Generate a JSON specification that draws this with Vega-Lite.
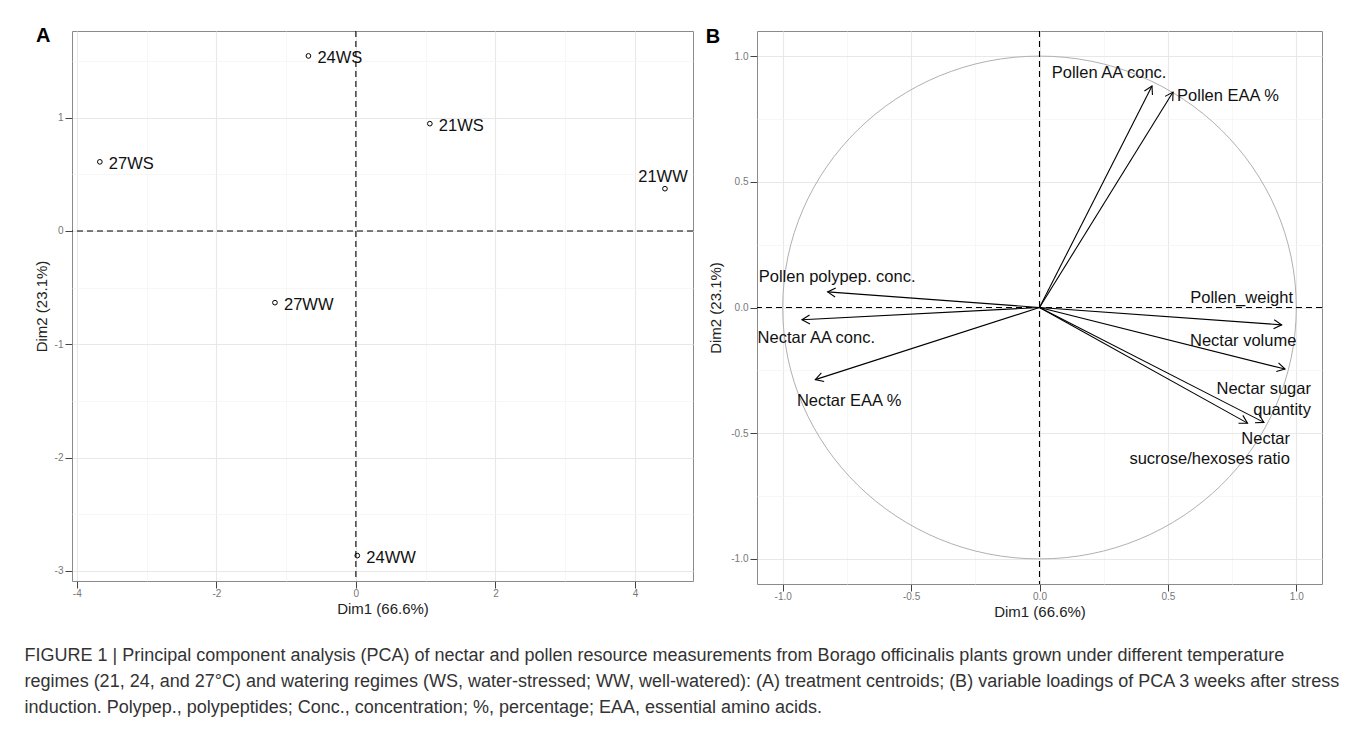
{
  "$schema": "https://vega.github.io/schema/vega-lite/v6.json",
  "background": "white",
  "padding": {"left": 24, "top": 25, "right": 5, "bottom": 0},
  "config": {
    "font": "Liberation Sans",
    "view": {"stroke": "#8a8a8a", "strokeWidth": 1},
    "axis": {
      "domain": false,
      "tickColor": "#444444",
      "tickSize": 7,
      "labelFontSize": 10,
      "labelColor": "#777777",
      "labelPadding": 2,
      "titleFontSize": 15,
      "titleFontWeight": "normal",
      "titleColor": "#222222",
      "gridColor": "#ebebeb"
    }
  },
  "title": {
    "text": [
      "FIGURE 1 | Principal component analysis (PCA) of nectar and pollen resource measurements from Borago officinalis plants grown under different temperature",
      "regimes (21, 24, and 27°C) and watering regimes (WS, water-stressed; WW, well-watered): (A) treatment centroids; (B) variable loadings of PCA 3 weeks after stress",
      "induction. Polypep., polypeptides; Conc., concentration; %, percentage; EAA, essential amino acids."
    ],
    "orient": "bottom",
    "anchor": "start",
    "frame": "bounds",
    "fontSize": 18,
    "fontWeight": "normal",
    "color": "#333333",
    "lineHeight": 26,
    "offset": 27,
    "dx": -9
  },
  "spacing": 10,
  "hconcat": [
    {
      "width": 621,
      "height": 550,
      "title": {"text": "A", "anchor": "start", "frame": "bounds", "orient": "top", "fontSize": 20, "fontWeight": "bold", "color": "black", "offset": -14, "dy": 18, "dx": 2, "baseline": "alphabetic"},
      "data": {
        "values": [
          {"name": "24WS", "Dim1": -0.68, "Dim2": 1.545},
          {"name": "21WS", "Dim1": 1.06, "Dim2": 0.947},
          {"name": "27WS", "Dim1": -3.67, "Dim2": 0.61},
          {"name": "21WW", "Dim1": 4.43, "Dim2": 0.373},
          {"name": "27WW", "Dim1": -1.16, "Dim2": -0.633},
          {"name": "24WW", "Dim1": 0.02, "Dim2": -2.866}
        ]
      },
      "layer": [
        {
          "data": {"values": [{"ref": 0}]},
          "mark": {"type": "rule", "color": "black", "strokeDash": [6, 4], "strokeWidth": 1.1},
          "encoding": {
            "x": {
              "field": "ref", "type": "quantitative",
              "scale": {"domain": [-4.069, 4.832], "nice": false, "zero": false},
              "axis": {
                "title": "Dim1 (66.6%)",
                "titlePadding": 3,
                "labelPadding": 0,
                "values": [-4, -3, -2, -1, 0, 1, 2, 3, 4],
                "labelExpr": "datum.value % 2 === 0 ? toString(datum.value) : ''",
                "tickOpacity": {"condition": {"test": "datum.value % 2 !== 0", "value": 0}, "value": 1},
                "gridColor": {"condition": {"test": "datum.value % 2 !== 0", "value": "#f3f3f3"}, "value": "#e8e8e8"},
                "gridWidth": {"condition": {"test": "datum.value % 2 !== 0", "value": 0.7}, "value": 1.1}
              }
            }
          }
        },
        {
          "data": {"values": [{"ref": 0}]},
          "mark": {"type": "rule", "color": "black", "strokeDash": [6, 4], "strokeWidth": 1.1},
          "encoding": {
            "y": {
              "field": "ref", "type": "quantitative",
              "scale": {"domain": [-3.09, 1.765], "nice": false, "zero": false},
              "axis": {
                "title": "Dim2 (23.1%)",
                "titlePadding": 5,
                "values": [-3, -2.5, -2, -1.5, -1, -0.5, 0, 0.5, 1, 1.5],
                "labelExpr": "datum.value % 1 === 0 ? toString(datum.value) : ''",
                "tickOpacity": {"condition": {"test": "datum.value % 1 !== 0", "value": 0}, "value": 1},
                "gridColor": {"condition": {"test": "datum.value % 1 !== 0", "value": "#f3f3f3"}, "value": "#e8e8e8"},
                "gridWidth": {"condition": {"test": "datum.value % 1 !== 0", "value": 0.7}, "value": 1.1}
              }
            }
          }
        },
        {
          "mark": {"type": "point", "shape": "circle", "filled": false, "color": "black", "size": 22, "strokeWidth": 1, "opacity": 1},
          "encoding": {
            "x": {"field": "Dim1", "type": "quantitative"},
            "y": {"field": "Dim2", "type": "quantitative"}
          }
        },
        {
          "transform": [{"filter": "datum.name !== '21WW'"}],
          "mark": {"type": "text", "align": "left", "baseline": "middle", "dx": 9, "dy": 2, "fontSize": 16.5, "color": "#111111"},
          "encoding": {
            "x": {"field": "Dim1", "type": "quantitative"},
            "y": {"field": "Dim2", "type": "quantitative"},
            "text": {"field": "name"}
          }
        },
        {
          "transform": [{"filter": "datum.name === '21WW'"}],
          "mark": {"type": "text", "align": "center", "baseline": "middle", "dx": -2, "dy": -12, "fontSize": 16.5, "color": "#111111"},
          "encoding": {
            "x": {"field": "Dim1", "type": "quantitative"},
            "y": {"field": "Dim2", "type": "quantitative"},
            "text": {"field": "name"}
          }
        }
      ]
    },
    {
      "width": 565,
      "height": 553,
      "title": {"text": "B", "anchor": "start", "frame": "bounds", "orient": "top", "fontSize": 20, "fontWeight": "bold", "color": "black", "offset": -14, "dy": 19, "dx": -3, "baseline": "alphabetic"},
      "data": {
        "values": [
          {"var": "Pollen AA conc.", "x": 0.438, "y": 0.881, "lx": 0.271, "ly": 0.914},
          {"var": "Pollen EAA %", "x": 0.52, "y": 0.857, "lx": 0.734, "ly": 0.821},
          {"var": "Pollen polypep. conc.", "x": -0.825, "y": 0.062, "lx": -0.788, "ly": 0.102},
          {"var": "Pollen_weight", "x": 0.943, "y": -0.069, "lx": 0.787, "ly": 0.017},
          {"var": "Nectar AA conc.", "x": -0.925, "y": -0.049, "lx": -0.869, "ly": -0.143},
          {"var": "Nectar EAA %", "x": -0.873, "y": -0.287, "lx": -0.741, "ly": -0.393},
          {"var": "Nectar volume", "x": 0.956, "y": -0.245, "lx": 0.793, "ly": -0.155},
          {"var": "Nectar sugar\nquantity", "x": 0.874, "y": -0.457, "lx": 1.057, "ly": -0.345},
          {"var": "Nectar\nsucrose/hexoses ratio", "x": 0.81, "y": -0.46, "lx": 0.975, "ly": -0.543}
        ]
      },
      "layer": [
        {
          "data": {"values": [{"ref": 0}]},
          "mark": {"type": "point", "shape": "M-1,0A1,0.979,0,1,1,1,0A1,0.979,0,1,1,-1,0Z", "size": 263782, "filled": false, "stroke": "#b0b0b0", "strokeWidth": 1, "opacity": 1},
          "encoding": {
            "x": {
              "field": "ref", "type": "quantitative",
              "scale": {"domain": [-1.1, 1.1], "nice": false, "zero": false},
              "axis": {
                "title": "Dim1 (66.6%)",
                "titlePadding": 3,
                "labelPadding": 0,
                "values": [-1, -0.75, -0.5, -0.25, 0, 0.25, 0.5, 0.75, 1],
                "labelExpr": "abs(datum.value * 2 - round(datum.value * 2)) < 0.001 ? (datum.value < 0 ? '-' : '') + format(abs(datum.value), '.1f') : ''",
                "tickOpacity": {"condition": {"test": "abs(datum.value * 2 - round(datum.value * 2)) > 0.001", "value": 0}, "value": 1},
                "gridColor": {"condition": {"test": "abs(datum.value * 2 - round(datum.value * 2)) > 0.001", "value": "#f3f3f3"}, "value": "#e8e8e8"},
                "gridWidth": {"condition": {"test": "abs(datum.value * 2 - round(datum.value * 2)) > 0.001", "value": 0.7}, "value": 1.1}
              }
            },
            "y": {
              "field": "ref", "type": "quantitative",
              "scale": {"domain": [-1.1, 1.1], "nice": false, "zero": false},
              "axis": {
                "title": "Dim2 (23.1%)",
                "titlePadding": 7,
                "values": [-1, -0.75, -0.5, -0.25, 0, 0.25, 0.5, 0.75, 1],
                "labelExpr": "abs(datum.value * 2 - round(datum.value * 2)) < 0.001 ? (datum.value < 0 ? '-' : '') + format(abs(datum.value), '.1f') : ''",
                "tickOpacity": {"condition": {"test": "abs(datum.value * 2 - round(datum.value * 2)) > 0.001", "value": 0}, "value": 1},
                "gridColor": {"condition": {"test": "abs(datum.value * 2 - round(datum.value * 2)) > 0.001", "value": "#f3f3f3"}, "value": "#e8e8e8"},
                "gridWidth": {"condition": {"test": "abs(datum.value * 2 - round(datum.value * 2)) > 0.001", "value": 0.7}, "value": 1.1}
              }
            }
          }
        },
        {
          "data": {"values": [{"ref": 0}]},
          "mark": {"type": "rule", "color": "black", "strokeDash": [6, 4], "strokeWidth": 1.1},
          "encoding": {"x": {"field": "ref", "type": "quantitative"}}
        },
        {
          "data": {"values": [{"ref": 0}]},
          "mark": {"type": "rule", "color": "black", "strokeDash": [6, 4], "strokeWidth": 1.1},
          "encoding": {"y": {"field": "ref", "type": "quantitative"}}
        },
        {
          "mark": {"type": "rule", "color": "black", "strokeWidth": 1.1},
          "encoding": {
            "x": {"field": "x", "type": "quantitative"},
            "y": {"field": "y", "type": "quantitative"},
            "x2": {"datum": 0},
            "y2": {"datum": 0}
          }
        },
        {
          "mark": {"type": "point", "shape": "M-0.5,0.87L0,0L0.5,0.87", "size": 324, "filled": false, "stroke": "black", "strokeWidth": 1.1, "opacity": 1, "angle": {"expr": "atan2(datum.x * 256.8, datum.y * 251.4) * 180 / PI"}},
          "encoding": {
            "x": {"field": "x", "type": "quantitative"},
            "y": {"field": "y", "type": "quantitative"}
          }
        },
        {
          "transform": [{"filter": "indexof(datum.var, '\\n') < 0"}],
          "mark": {"type": "text", "align": "center", "baseline": "alphabetic", "fontSize": 16.5, "color": "#111111"},
          "encoding": {
            "x": {"field": "lx", "type": "quantitative"},
            "y": {"field": "ly", "type": "quantitative"},
            "text": {"field": "var"}
          }
        },
        {
          "transform": [{"filter": "indexof(datum.var, '\\n') >= 0"}],
          "mark": {"type": "text", "align": "right", "baseline": "alphabetic", "fontSize": 16.5, "lineHeight": 20.5, "lineBreak": "\n", "color": "#111111"},
          "encoding": {
            "x": {"field": "lx", "type": "quantitative"},
            "y": {"field": "ly", "type": "quantitative"},
            "text": {"field": "var"}
          }
        }
      ]
    }
  ]
}
